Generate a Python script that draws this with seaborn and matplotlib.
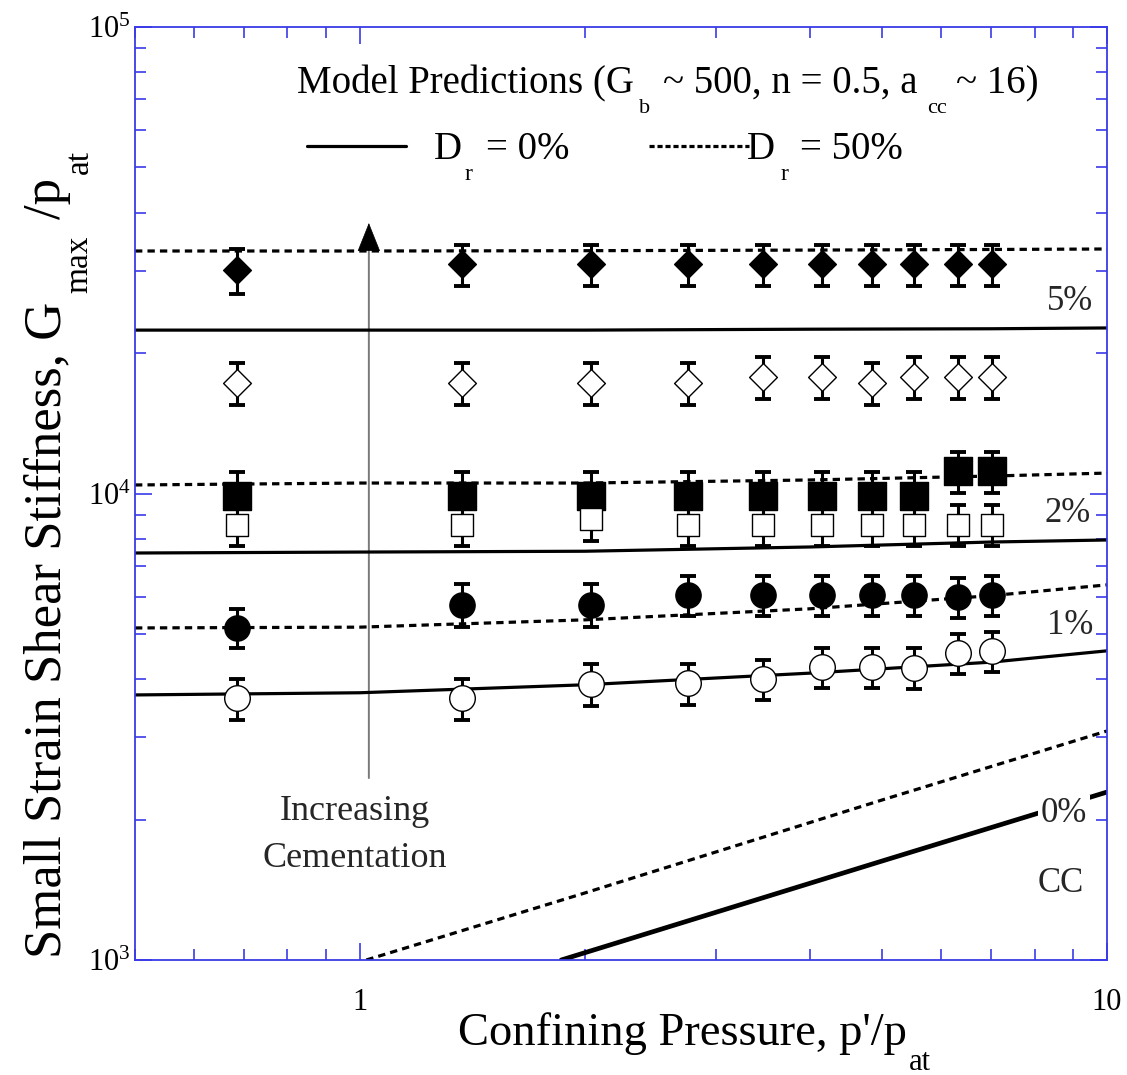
import matplotlib
matplotlib.use("Agg")
import numpy as np
import pandas as pd
import matplotlib.pyplot as plt
import seaborn as sns
from matplotlib.ticker import LogLocator, NullFormatter
from matplotlib.transforms import offset_copy

# ---------------------------------------------------------------- data
# confining pressure of the test specimens, p'/p_at
pressure = [0.685, 1.37, 2.04, 2.75, 3.46, 4.16, 4.84, 5.51, 6.32, 7.02]

# measured small strain stiffness G_max/p_at and error-bar half widths
g_5_filled = [30100, 31000, 31000, 31000, 31000, 31000, 31000, 31000, 31000, 31000]
e_5_filled = [3300, 3100, 3100, 3100, 3100, 3100, 3100, 3100, 3100, 3100]
g_5_open = [17250, 17250, 17250, 17250, 17770, 17770, 17250, 17770, 17770, 17770]
e_5_open = [1750, 1750, 1750, 1750, 1800, 1800, 1750, 1800, 1800, 1800]
g_2_filled = [9880, 9880, 9880, 9880, 9880, 9880, 9880, 9880, 11150, 11150]
e_2_filled = [1250, 1250, 1250, 1250, 1250, 1250, 1250, 1250, 1120, 1120]
g_2_open = [8580, 8580, 8800, 8580, 8580, 8580, 8580, 8580, 8580, 8580]
e_2_open = [860, 860, 880, 860, 860, 860, 860, 860, 860, 860]
g_1_filled = [5160, 5780, 5780, 6070, 6070, 6070, 6070, 6070, 6000, 6070]
e_1_filled = [490, 610, 610, 600, 600, 600, 600, 600, 600, 600]
g_1_open = [3640, 3640, 3900, 3920, 4000, 4250, 4250, 4230, 4550, 4600]
e_1_open = [365, 365, 400, 400, 400, 425, 425, 425, 455, 460]

# model predictions (G_b ~ 500, n = 0.5, a_cc ~ 16)
model_p = [0.5, 1.0, 2.0, 4.0, 7.0, 10.0]
model_5_dr0 = [22400, 22400, 22400, 22500, 22550, 22640]
model_5_dr50 = [33100, 33100, 33150, 33250, 33350, 33430]
model_2_dr0 = [7455, 7490, 7520, 7680, 7870, 7950]
model_2_dr50 = [10430, 10530, 10530, 10690, 10900, 11060]
model_1_dr0 = [3700, 3740, 3890, 4120, 4350, 4600]
model_1_dr50 = [5150, 5170, 5360, 5660, 6040, 6370]
cc_p_dr50 = [1.02, 2.0, 5.0, 10.0]
cc_dr50 = [1000, 1392, 2203, 3097]
cc_p_dr0 = [1.86, 5.0, 10.0]
cc_dr0 = [1000, 1630, 2291]

# ---------------------------------------------------------------- style
AXIS_BLUE = "#3a3ae8"
sns.set_theme(style="ticks")
plt.rcParams.update({
    "font.family": ["Liberation Serif", "DejaVu Serif"],
    "mathtext.fontset": "custom",
    "mathtext.rm": "Liberation Serif",
    "mathtext.it": "Liberation Serif:italic",
    "mathtext.bf": "Liberation Serif:bold",
    "axes.linewidth": 1.3,
})

fig = plt.figure(figsize=(11.27, 10.75), dpi=100)
fig.patch.set_facecolor("white")
ax = fig.add_axes([135 / 1127, 1 - 960 / 1075, 972 / 1127, 933 / 1075])
ax.set_facecolor("white")
ax.set_xscale("log")
ax.set_yscale("log")

DASH = (0, (2.3, 1.6))
LW = 2.3


def rich_text(x, y, runs, transform, rotation=0, ha="left"):
    """Write a line made of runs (text, size, baseline drop, gap after), all in points."""
    renderer = fig.canvas.get_renderer()
    measured = []
    for txt, size, drop, gap in runs:
        probe = fig.text(0, 0, txt, fontsize=size)
        w = probe.get_window_extent(renderer).width * 72.0 / fig.dpi
        probe.remove()
        measured.append((txt, size, drop, gap, w))
    total = sum(m[4] + m[3] for m in measured) - measured[-1][3]
    pos = {"left": 0.0, "center": -total / 2.0, "right": -total}[ha]
    for txt, size, drop, gap, w in measured:
        if rotation == 0:
            tr = offset_copy(transform, fig=fig, x=pos, y=-drop, units="points")
        else:
            tr = offset_copy(transform, fig=fig, x=drop, y=pos, units="points")
        fig.text(x, y, txt, fontsize=size, transform=tr, rotation=rotation,
                 rotation_mode="anchor", ha="left", va="baseline", color="black")
        pos += w + gap


# ---------------------------------------------------------------- model curves
curves = [
    (model_p, model_5_dr0, "-", LW), (model_p, model_5_dr50, DASH, LW),
    (model_p, model_2_dr0, "-", LW), (model_p, model_2_dr50, DASH, LW),
    (model_p, model_1_dr0, "-", LW), (model_p, model_1_dr50, DASH, LW),
    (cc_p_dr0, cc_dr0, "-", 3.4), (cc_p_dr50, cc_dr50, DASH, LW),
]
for xs, ys, ls, lw in curves:
    df = pd.DataFrame({"p": xs, "G": ys})
    sns.lineplot(data=df, x="p", y="G", ax=ax, color="black", lw=lw,
                 linestyle=ls, estimator=None, sort=False, zorder=2)

# ---------------------------------------------------------------- measurements
series = [
    (g_5_filled, e_5_filled, "D", 200, "black"),
    (g_5_open, e_5_open, "D", 200, "white"),
    (g_2_filled, e_2_filled, "s", 400, "black"),
    (g_2_open, e_2_open, "s", 270, "white"),
    (g_1_filled, e_1_filled, "o", 330, "black"),
    (g_1_open, e_1_open, "o", 340, "white"),
]
for g, e, m, s, fc in series:
    ax.errorbar(pressure, g, yerr=e, fmt="none", ecolor="black", elinewidth=2.2,
                capsize=5.6, capthick=2.8, zorder=3)
for g, e, m, s, fc in series:
    sns.scatterplot(x=pressure, y=g, ax=ax, marker=m, s=s, color=fc,
                    edgecolor="black", linewidth=1.0, zorder=4, legend=False)

# ---------------------------------------------------------------- axes
ax.set_xlim(0.5, 10)
ax.set_ylim(1e3, 1e5)
ax.set_xticks([1, 10], labels=["1", "10"])
ax.xaxis.set_minor_locator(LogLocator(base=10, subs=np.arange(2, 10)))
ax.xaxis.set_minor_formatter(NullFormatter())
ax.yaxis.set_major_locator(LogLocator(base=10, numticks=10))
ax.yaxis.set_minor_locator(LogLocator(base=10, subs=np.arange(2, 10), numticks=10))
ax.yaxis.set_minor_formatter(NullFormatter())
for sp in ax.spines.values():
    sp.set_color(AXIS_BLUE)
    sp.set_linewidth(1.3)
ax.tick_params(which="both", direction="in", top=True, right=True,
               color=AXIS_BLUE, width=1.2, labelcolor="black")
ax.tick_params(which="major", length=12)
ax.tick_params(which="minor", length=8)
ax.tick_params(axis="x", which="major", labelsize=22, pad=20)
ax.tick_params(axis="y", which="major", labelsize=22, pad=3)
ax.set_xlabel("")
ax.set_ylabel("")

# axis titles with dropped subscripts
rich_text(458 / 1127, 1 - 1045 / 1075,
          [("Confining Pressure, p'/p", 33.5, 0, 1.5), ("at", 22, 18, 0)],
          fig.transFigure)
rich_text(60 / 1127, 1 - 958 / 1075,
          [("Small Strain Shear Stiffness, G", 38, 0, 6), ("max", 24, 20, 12),
           ("/p", 38, 0, 3), ("at", 24, 20, 0)],
          fig.transFigure, rotation=90)

# ---------------------------------------------------------------- legend block
rich_text(0.1667, 0.9293,
          [("Model Predictions (G", 28, 0, 3.5), ("b", 16, 14.5, 9),
           ("~ 500, n = 0.5, a", 28, 0, 7), ("cc", 16, 14.5, 7), ("~ 16)", 28, 0, 0)],
          ax.transAxes)
ax.plot([0.177, 0.279], [0.8725, 0.8725], transform=ax.transAxes, color="black", lw=LW)
rich_text(0.3076, 0.8585, [("D", 28, 0, 1.5), ("r", 17, 15, 10), ("= 0%", 28, 0, 0)],
          ax.transAxes)
ax.plot([0.5288, 0.6317], [0.8725, 0.8725], transform=ax.transAxes, color="black",
        lw=LW, linestyle=(0, (1.6, 0.9)))
rich_text(0.6296, 0.8585, [("D", 28, 0, 4), ("r", 17, 15, 8), ("= 50%", 28, 0, 0)],
          ax.transAxes)

# ---------------------------------------------------------------- annotations
ax.annotate("", xy=(1.028, 35500), xytext=(1.028, 2455),
            arrowprops=dict(arrowstyle="-", color="#7a7a7a", lw=1.4, shrinkA=0, shrinkB=0),
            zorder=1)
ax.annotate("", xy=(1.028, 38000), xytext=(1.028, 36000),
            arrowprops=dict(arrowstyle="-|>,head_length=0.4,head_width=0.16",
                            mutation_scale=48, color="black", lw=0.5,
                            shrinkA=0, shrinkB=0), zorder=1)
ax.text(0.985, 2086, "Increasing", fontsize=26, ha="center", va="center")
ax.text(0.985, 1654, "Cementation", fontsize=26, ha="center", va="center")

# cement content labels
ax.text(8.92, 25860, "5%", fontsize=25, ha="center", va="center")
ax.text(8.86, 9082, "2%", fontsize=25, ha="center", va="center")
ax.text(8.94, 5200, "1%", fontsize=25, ha="center", va="center")
ax.text(8.75, 2056, "0%", fontsize=25, ha="center", va="center",
        bbox=dict(facecolor="white", edgecolor="none", pad=2), zorder=5)
ax.text(8.66, 1459, "CC", fontsize=25, ha="center", va="center")

fig.savefig("out.png", dpi=100, facecolor="white")
